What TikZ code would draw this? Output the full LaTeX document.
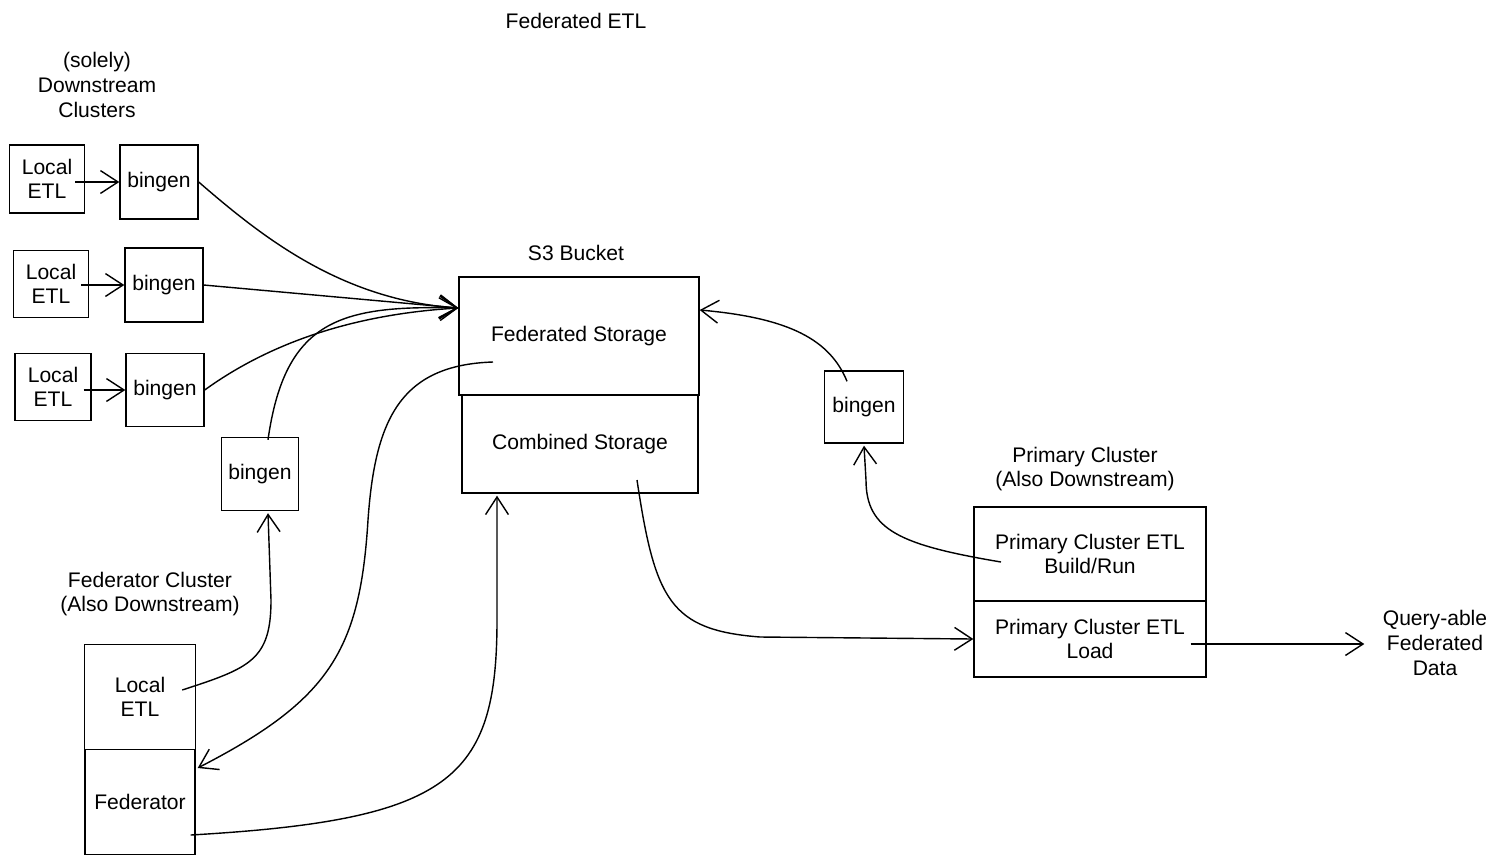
\documentclass[tikz,border=0pt]{standalone}
\usepackage{fontspec}
\setmainfont{Liberation Sans}
\usetikzlibrary{arrows.meta}

\begin{document}
\begin{tikzpicture}[x=0.02cm, y=-0.02cm, thick,
		font=\fontsize{12}{14}\selectfont,
		>={Straight Barb[length=10pt,width=13pt]},
		box/.style = {draw, inner sep=0pt, align=center},
		txt/.style = {align=center}]
		\useasboundingbox (0,0) rectangle (1497,866);

		\node[txt] (title) at (576,21) {Federated ETL};
		\node[txt] (down) at (97,85) {(solely)\\Downstream\\Clusters};

		% downstream clusters
		\node[box, minimum width=1.5cm, minimum height=1.36cm] (l1) at (47,179) {Local\\ETL};
		\node[box, minimum width=1.56cm, minimum height=1.48cm] (b1) at (159,182) {bingen};
		\node[box, minimum width=1.5cm, minimum height=1.34cm] (l2) at (51,284) {Local\\ETL};
		\node[box, minimum width=1.56cm, minimum height=1.48cm] (b2) at (164,285) {bingen};
		\node[box, minimum width=1.52cm, minimum height=1.34cm] (l3) at (53,387) {Local\\ETL};
		\node[box, minimum width=1.56cm, minimum height=1.46cm] (b3) at (165,390) {bingen};
		\node[box, minimum width=1.54cm, minimum height=1.46cm] (b4) at (260,474) {bingen};

		% s3 bucket
		\node[txt] (s3) at (576,253) {S3 Bucket};
		\node[box, minimum width=4.8cm, minimum height=2.36cm] (fed) at (579,336) {Federated Storage};
		\node[box, minimum width=4.72cm, minimum height=1.96cm] (comb) at (580,444) {Combined Storage};
		\node[box, minimum width=1.58cm, minimum height=1.44cm] (b5) at (864,407) {bingen};

		% federator cluster
		\node[txt] (fclu) at (150,594) {Federator Cluster\\(Also Downstream)};
		\node[box, minimum width=2.22cm, minimum height=2.1cm] (fl) at (140,697) {Local\\ETL};
		\node[box, minimum width=2.2cm, minimum height=2.1cm] (fedr) at (140,802) {Federator};

		% primary cluster
		\node[txt] (pclu) at (1085,469) {Primary Cluster\\(Also Downstream)};
		\node[box, minimum width=4.64cm, minimum height=1.88cm] (build) at (1090,554) {Primary Cluster ETL\\Build/Run};
		\node[box, minimum width=4.64cm, minimum height=1.52cm] (load) at (1090,639) {Primary Cluster ETL\\Load};
		\node[txt] (query) at (1435,643) {Query-able\\Federated\\Data};

		\draw[->] ([shift={(-10,3)}]l1.east) -- (b1.west);
		\draw[->] ([shift={(-8,1)}]l2.east) -- (b2.west);
		\draw[->] ([shift={(-8,3)}]l3.east) -- (b3.west);

		\draw[->] (b1.east) .. controls (260,235) and (340,300) .. ([shift={(0,-28)}]fed.west);
		\draw[->] (b2.east) -- ([shift={(0,-28)}]fed.west);
		\draw[->] (b3.east) .. controls (260,350) and (340,315) .. ([shift={(0,-28)}]fed.west);
		\draw[->] ([shift={(8,3)}]b4.north) .. controls (285,320) and (340,305) .. ([shift={(0,-28)}]fed.west);

		\draw[->] ([shift={(-86,26)}]fed.center) .. controls (400,365) and (375,420) .. (368,520)
			.. controls (360,650) and (330,700) .. ([shift={(2,-34)}]fedr.east);
		\draw[->] ([shift={(-5,33)}]fedr.east) .. controls (450,820) and (497,780) .. (497,620) -- ([shift={(-83,2)}]comb.south);
		\draw[->] ([shift={(-14,-7)}]fl.east) .. controls (250,668) and (271,660) .. (271,600) -- ([shift={(8,2)}]b4.south);

		\draw[->] ([shift={(57,36)}]comb.center) .. controls (655,600) and (670,630) .. (760,637) -- (load.west);
		\draw[->] ([shift={(-89,8)}]build.center) .. controls (900,545) and (866,530) .. (866,480) -- ([shift={(0,2)}]b5.south);
		\draw[->] ([shift={(-17,11)}]b5.north) .. controls (830,340) and (790,318) .. ([shift={(0,-26)}]fed.east);
		\draw[->] ([shift={(-16,5)}]load.east) -- ([shift={(-12,1)}]query.west);
	\end{tikzpicture}
\end{document}
